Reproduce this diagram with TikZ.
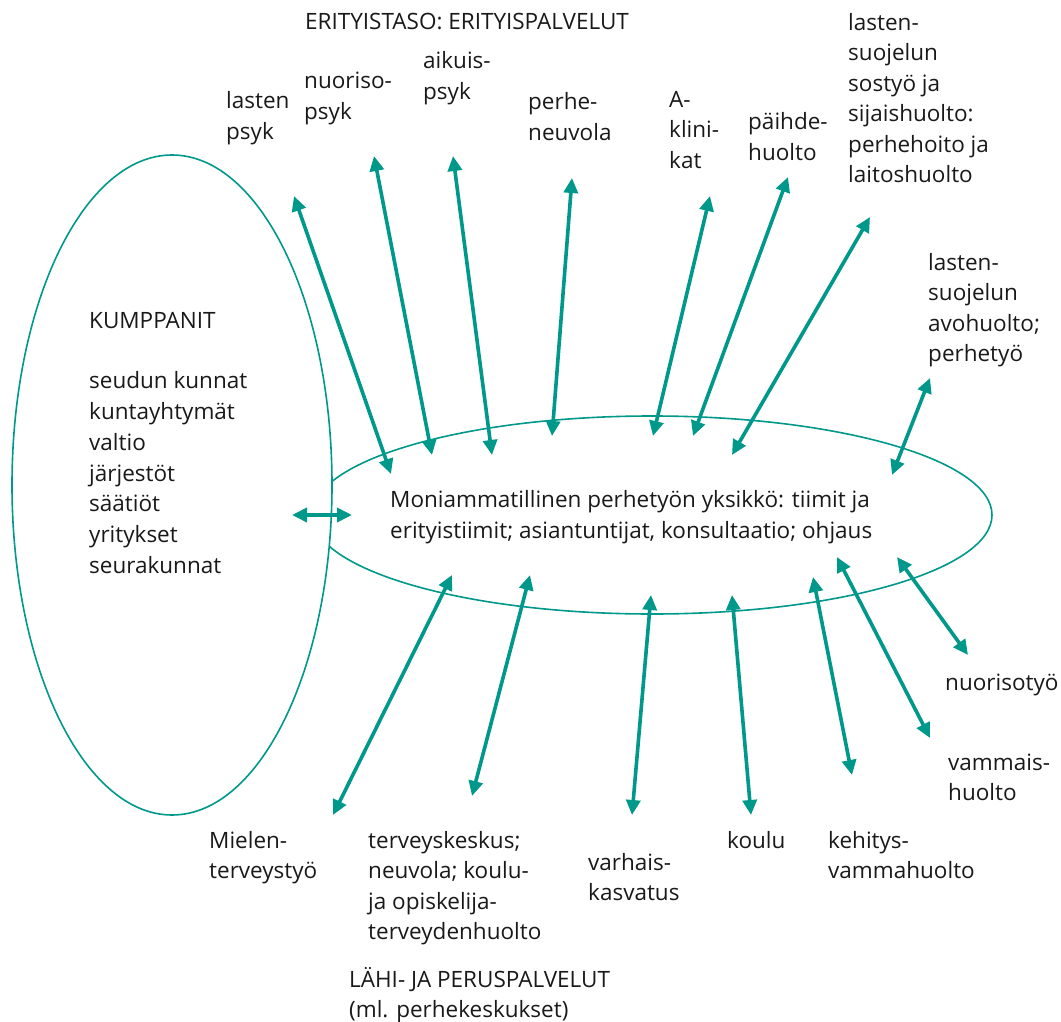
\documentclass[tikz,border=0pt]{standalone}
\usepackage{fontspec}
\setmainfont{Open Sans}
\usetikzlibrary{arrows.meta}
\definecolor{teal1}{RGB}{0,152,138}
\tikzset{
  lbl/.style={anchor=base west, inner sep=0pt, align=left, font=\fontsize{22.5}{30.5}\selectfont, text=black!90},
  link/.style={draw=teal1, line width=3.6pt, {Triangle[length=15pt,width=14pt]}-{Triangle[length=15pt,width=14pt]}},
  oval/.style={draw=teal1, line width=1.6pt}
}
\begin{document}
\begin{tikzpicture}[x=1pt,y=-1pt]
\useasboundingbox (0,0) rectangle (1061,1022);
% ellipses
\draw[oval] (652,515) ellipse [x radius=340, y radius=99];
\draw[oval, fill=white] (172,485) ellipse [x radius=160, y radius=330];

% labels (anchored at the baseline of their last line)
\node[lbl] (top) at (305,30) {ERITYISTASO: ERITYISPALVELUT};
\node[lbl] (lpsyk) at (226,139.5) {lasten\\psyk};
\node[lbl] (npsyk) at (304,119.5) {nuoriso-\\psyk};
\node[lbl] (apsyk) at (423,99.5) {aikuis-\\psyk};
\node[lbl] (pneuv) at (528,140.5) {perhe-\\neuvola};
\node[lbl] (aklin) at (669,168) {A-\\klini-\\kat};
\node[lbl] (paih) at (748,160.5) {päihde-\\huolto};
\node[lbl] (sijais) at (848,182.5) {lasten-\\suojelun\\sostyö ja\\sijaishuolto:\\perhehoito ja\\laitoshuolto};
\node[lbl] (avo) at (928,361.5) {lasten-\\suojelun\\avohuolto;\\perhetyö};
\node[lbl, font=\fontsize{22.5}{30.8}\selectfont] (kump) at (89,573.4) {KUMPPANIT\\[29.8pt]seudun kunnat\\kuntayhtymät\\valtio\\järjestöt\\säätiöt\\yritykset\\seurakunnat};
\node[lbl] (center) at (390,538) {Moniammatillinen perhetyön yksikkö: tiimit ja\\erityistiimit; asiantuntijat, konsultaatio; ohjaus};
\node[lbl] (nuoriso) at (945,690) {nuorisotyö};
\node[lbl] (vammais) at (948,800.5) {vammais-\\huolto};
\node[lbl] (kehitys) at (828,878.5) {kehitys-\\vammahuolto};
\node[lbl] (koulu) at (727,848) {koulu};
\node[lbl] (varhais) at (588,900.5) {varhais-\\kasvatus};
\node[lbl] (mielen) at (209,878.5) {Mielen-\\terveystyö};
\node[lbl] (terv) at (368,939.5) {terveyskeskus;\\neuvola; koulu-\\ja opiskelija-\\terveydenhuolto};
\node[lbl] (lahi) at (349,1017.5) {LÄHI- JA PERUSPALVELUT\\(ml. perhekeskukset)};

% arrow end points
\coordinate (a1t) at (294,196); \coordinate (a1b) at (391,474);
\coordinate (a2t) at (374,156); \coordinate (a2b) at (432,455);
\coordinate (a3t) at (453,156); \coordinate (a3b) at (492,455);
\coordinate (a4t) at (572,178); \coordinate (a4b) at (552,436);
\coordinate (a5t) at (710,196); \coordinate (a5b) at (653,436);
\coordinate (a6t) at (788,177); \coordinate (a6b) at (693,436);
\coordinate (a7t) at (870,217); \coordinate (a7b) at (732,455);
\coordinate (a8t) at (930,378); \coordinate (a8b) at (892,475);
\coordinate (a9t) at (897,557); \coordinate (a9b) at (968,655);
\coordinate (a10t) at (837,557); \coordinate (a10b) at (930,738);
\coordinate (a11t) at (813,577); \coordinate (a11b) at (852,775);
\coordinate (a12t) at (732,595); \coordinate (a12b) at (751,815);
\coordinate (a13t) at (651,595); \coordinate (a13b) at (632,815);
\coordinate (a14t) at (530,575); \coordinate (a14b) at (472,796);
\coordinate (a15t) at (452,575); \coordinate (a15b) at (333,815);
\coordinate (hl) at (292,515); \coordinate (hr) at (352,515);

\foreach \i in {1,...,15} {\draw[link] (a\i t) -- (a\i b);}
\draw[link] (hl) -- (hr);
\end{tikzpicture}
\end{document}
